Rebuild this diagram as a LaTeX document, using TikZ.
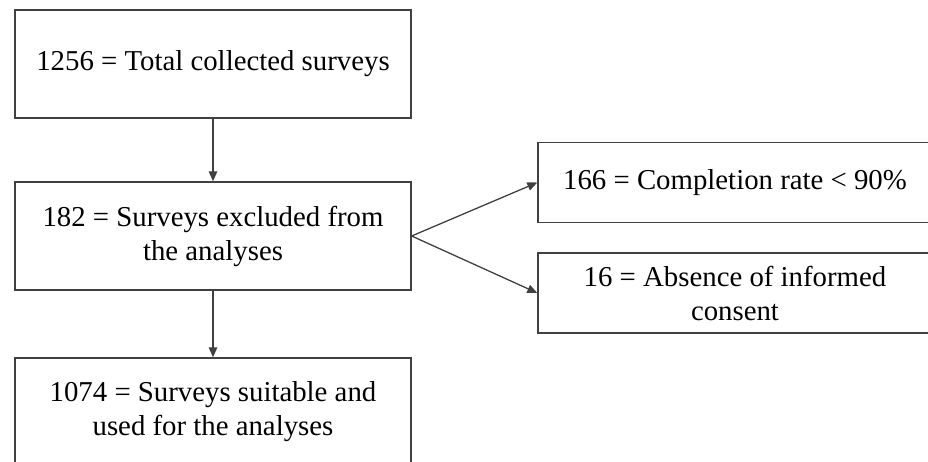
\documentclass[tikz,border=0pt]{standalone}
\usepackage{fontspec}
\setmainfont{Liberation Serif}
\usetikzlibrary{arrows.meta}
\definecolor{boxline}{HTML}{404040}

\begin{document}
\begin{tikzpicture}[x=1pt,y=-1pt,
    surveybox/.style={draw=boxline, line width=1.3pt, rectangle, align=center, inner sep=0pt,
        font=\fontsize{28.8}{34}\selectfont},
    leftbox/.style={surveybox, minimum width=396pt, minimum height=108pt},
    rightbox/.style={surveybox, minimum width=394pt, minimum height=80pt},
    flow/.style={-{Triangle[length=10pt,width=8.5pt]}, draw=boxline, line width=1.3pt}]
        \useasboundingbox (0,0) rectangle (928,461);
        \clip (0,0) rectangle (928,461);
        % left column
        \node[leftbox] (total) at (213,64) {1256 = Total collected surveys};
        \node[leftbox] (excluded) at (213,236) {182 = Surveys excluded from\\the analyses};
        \node[leftbox] (suitable) at (213,412) {1074 = Surveys suitable and\\used for the analyses};
        % right column
        \node[rightbox] (rate) at (735,182.5) {166 = Completion rate < 90\%};
        \node[rightbox] (consent) at (735,293) {16 = Absence of informed\\consent};
        \draw[flow] (total) -- (excluded);
        \draw[flow] (excluded) -- (suitable);
        \draw[flow] (excluded.east) -- (rate.west);
        \draw[flow] (excluded.east) -- (consent.west);
\end{tikzpicture}
\end{document}
